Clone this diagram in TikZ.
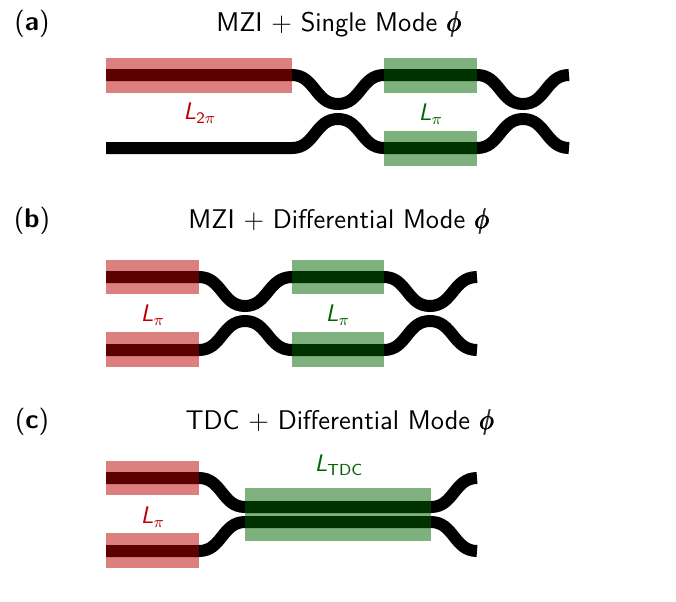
\documentclass[tikz,border=0pt]{standalone}
\usepackage{amsmath,amssymb}
\usepackage{tikz}
\definecolor{phasered}{HTML}{B80000}
\definecolor{phasegreen}{HTML}{006400}
\newcommand{\Lsub}[1]{\textit{L}$_{\text{#1}}$}
\newcommand{\phasesym}{\scalebox{0.85}[1]{\rlap{$\phi$}\kern0.25pt\rlap{$\phi$}\kern0.25pt\rlap{$\phi$}\kern0.25pt$\phi$}}

\begin{document}
\begin{tikzpicture}[x=0.5pt,y=-0.5pt,
    wire/.style={line width=6pt,black},
    redbox/.style={fill=phasered,fill opacity=0.5,draw=none},
    greenbox/.style={fill=phasegreen,fill opacity=0.5,draw=none},
    title/.style={font=\fontsize{13.5}{16}\selectfont\sffamily},
    panel/.style={font=\fontsize{13.5}{16}\selectfont\sffamily},
    redlabel/.style={text=phasered,font=\fontsize{12}{14}\selectfont\sffamily},
    greenlabel/.style={text=phasegreen,font=\fontsize{12}{14}\selectfont\sffamily}]
  \useasboundingbox (0,0) rectangle (676,601);
  % panel a
  \draw[wire] (106,75)--(292,75) .. controls (315,75) and (315,104) .. (338,104)
    .. controls (361,104) and (361,75) .. (384,75)--(477,75)
    .. controls (500,75) and (500,104) .. (523,104)
    .. controls (546,104) and (546,75) .. (569,75);
  \draw[wire] (106,148)--(292,148) .. controls (315,148) and (315,119) .. (338,119)
    .. controls (361,119) and (361,148) .. (384,148)--(477,148)
    .. controls (500,148) and (500,119) .. (523,119)
    .. controls (546,119) and (546,148) .. (569,148);
  \fill[redbox] (106,58) rectangle (292,93);
  \fill[greenbox] (384,58) rectangle (477,93);
  \fill[greenbox] (384,131) rectangle (477,166);
  \node[panel] (pa) at (32,24) {(\textbf{a})};
  \node[title] (ta) at (339,24) {MZI + Single Mode \phasesym};
  \node[redlabel] (la) at (200,113) {\Lsub{2$\pi$}};
  \node[greenlabel] (ga) at (431,114) {\Lsub{$\pi$}};
  % panel b
  \draw[wire] (106,277)--(199,277) .. controls (222,277) and (222,306) .. (245,306)
    .. controls (268,306) and (268,277) .. (292,277)--(384,277)
    .. controls (407,277) and (407,306) .. (430,306)
    .. controls (453,306) and (453,277) .. (477,277);
  \draw[wire] (106,350)--(199,350) .. controls (222,350) and (222,321) .. (245,321)
    .. controls (268,321) and (268,350) .. (292,350)--(384,350)
    .. controls (407,350) and (407,321) .. (430,321)
    .. controls (453,321) and (453,350) .. (477,350);
  \fill[redbox] (106,260) rectangle (199,294);
  \fill[redbox] (106,332) rectangle (199,367);
  \fill[greenbox] (292,260) rectangle (384,294);
  \fill[greenbox] (292,332) rectangle (384,367);
  \node[panel] (pb) at (32,221) {(\textbf{b})};
  \node[title] (tb) at (339,221) {MZI + Differential Mode \phasesym};
  \node[redlabel] (lb) at (153,315) {\Lsub{$\pi$}};
  \node[greenlabel] (gb) at (338,315) {\Lsub{$\pi$}};
  % panel c
  \draw[wire] (106,478)--(199,478) .. controls (222,478) and (222,507) .. (245,507)
    --(431,507) .. controls (454,507) and (454,478) .. (477,478);
  \draw[wire] (106,551)--(199,551) .. controls (222,551) and (222,522) .. (245,522)
    --(431,522) .. controls (454,522) and (454,551) .. (477,551);
  \fill[redbox] (106,461) rectangle (199,495);
  \fill[redbox] (106,533) rectangle (199,568);
  \fill[greenbox] (245,488) rectangle (431,541);
  \node[panel] (pc) at (32,422) {(\textbf{c})};
  \node[title] (tc) at (340,422) {TDC + Differential Mode \phasesym};
  \node[redlabel] (lc) at (153,517) {\Lsub{$\pi$}};
  \node[greenlabel] (gc) at (339,465) {\Lsub{TDC}};
\end{tikzpicture}
\end{document}
